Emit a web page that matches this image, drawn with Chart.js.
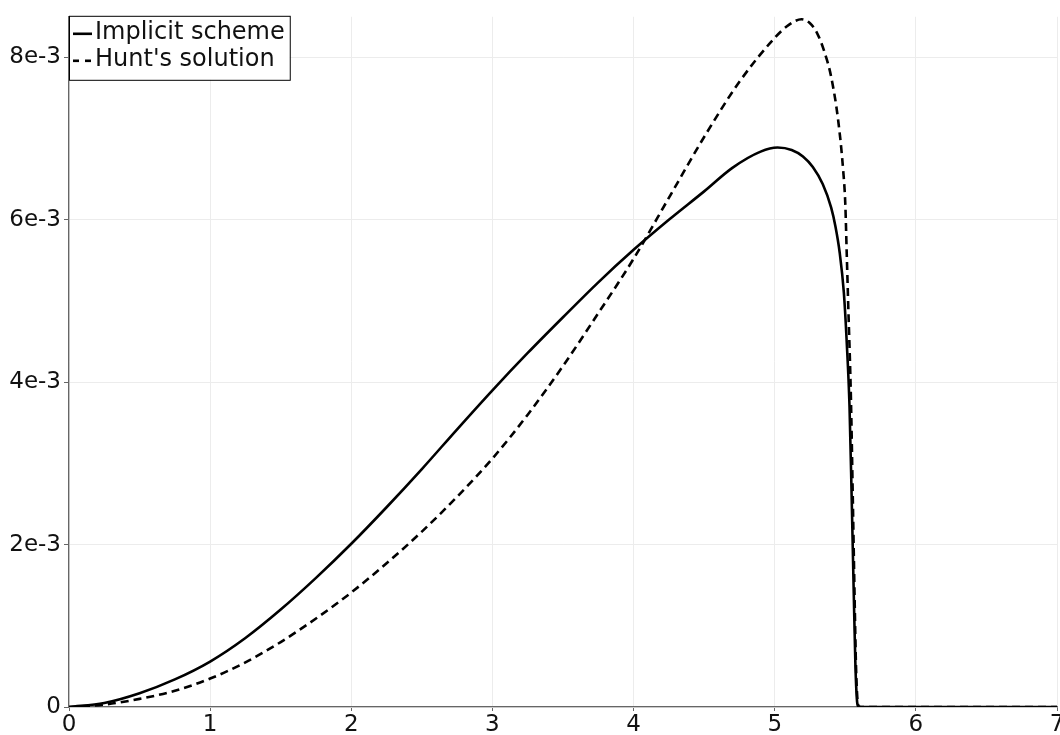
<!DOCTYPE html>
<html>
<head>
<meta charset="utf-8">
<script src="https://cdn.jsdelivr.net/npm/chart.js@4.4.1/dist/chart.umd.min.js"></script>
<style>
  html, body { margin: 0; padding: 0; background: #fff; overflow: hidden; }
  #wrap { position: relative; width: 1070px; height: 735px; }
</style>
</head>
<body>
<div id="wrap"><canvas id="c"></canvas></div>
<script>
// ---- data ----
const seriesLabels = ["Implicit scheme", "Hunt's solution"];

const xImplicit = [0, 0.25, 0.5, 0.75, 1, 1.25, 1.5, 1.75, 2, 2.25, 2.5, 2.75, 3, 3.25, 3.5, 3.75, 4, 4.25, 4.5, 4.7, 4.9, 5.02, 5.12, 5.2, 5.27, 5.34, 5.4, 5.43, 5.46, 5.49, 5.51, 5.53, 5.545, 5.56, 5.572, 5.582, 5.59, 5.6, 6, 6.5, 7];
const yImplicit = [0, 0.00005, 0.00017, 0.00034, 0.00056, 0.00085, 0.00120, 0.00159, 0.00201, 0.00246, 0.00293, 0.00342, 0.00390, 0.00436, 0.00480, 0.00523, 0.00563, 0.00600, 0.00635, 0.00664, 0.00684, 0.00689, 0.00686, 0.00678, 0.00665, 0.00644, 0.00615, 0.00592, 0.00560, 0.00510, 0.00450, 0.00370, 0.00260, 0.00140, 0.00050, 0.00010, 0.00001, 0, 0, 0, 0];

const xHunt = [0, 0.25, 0.5, 0.75, 1, 1.25, 1.5, 1.75, 2, 2.25, 2.5, 2.75, 3, 3.25, 3.5, 3.75, 4, 4.25, 4.5, 4.75, 5, 5.1, 5.19, 5.25, 5.3, 5.35, 5.4, 5.45, 5.485, 5.5, 5.51, 5.52, 5.54, 5.553, 5.566, 5.576, 5.585, 5.595, 5.61, 6, 6.5, 7];
const yHunt = [0, 0.00003, 0.00010, 0.00020, 0.00035, 0.00055, 0.00080, 0.00109, 0.00141, 0.00177, 0.00216, 0.00259, 0.00306, 0.00360, 0.00420, 0.00485, 0.00552, 0.00627, 0.00702, 0.00770, 0.00824, 0.00840, 0.00847, 0.00842, 0.00830, 0.00808, 0.00776, 0.00722, 0.00661, 0.00620, 0.00560, 0.00500, 0.00380, 0.00260, 0.00135, 0.00050, 0.00012, 0.00001, 0, 0, 0, 0];

const xTickValues = [0, 1, 2, 3, 4, 5, 6, 7];
const xTickLabels = ["0", "1", "2", "3", "4", "5", "6", "7"];
const yTickValues = [0, 0.002, 0.004, 0.006, 0.008];
const yTickLabels = ["0", "2e-3", "4e-3", "6e-3", "8e-3"];

// ---- chart ----
const FONT = "'DejaVu Sans', sans-serif";
const FONT_SIZE = 23;
const LEGEND_FONT_SIZE = 24;
const toPts = (xs, ys) => xs.map((x, i) => ({ x: x, y: ys[i] }));

const boxedLegend = {
  id: 'boxedLegend',
  afterDraw(chart) {
    const ctx = chart.ctx;
    const ca = chart.chartArea;
    ctx.save();
    ctx.font = LEGEND_FONT_SIZE + "px " + FONT;
    const padL = 4, sample = 19, gap = 3, padR = 5, rowH = 27;
    let maxW = 0;
    chart.data.datasets.forEach(ds => { maxW = Math.max(maxW, ctx.measureText(ds.label).width); });
    const x0 = ca.left, y0 = ca.top - 1;
    const w = padL + sample + gap + maxW + padR;
    const h = rowH * chart.data.datasets.length + 10;
    ctx.fillStyle = '#ffffff';
    ctx.fillRect(x0, y0, w, h);
    ctx.strokeStyle = '#000';
    ctx.lineWidth = 1;
    ctx.strokeRect(x0 + 0.5, y0 + 0.5, w, h);
    chart.data.datasets.forEach((ds, i) => {
      const cy = y0 + 17 + i * rowH;
      ctx.beginPath();
      ctx.setLineDash(ds.borderDash ? [6, 6] : []);
      ctx.lineWidth = ds.borderWidth;
      ctx.strokeStyle = ds.borderColor;
      ctx.moveTo(x0 + padL, cy + 1);
      ctx.lineTo(x0 + padL + sample, cy + 1);
      ctx.stroke();
      ctx.setLineDash([]);
      ctx.fillStyle = '#111';
      ctx.textBaseline = 'middle';
      ctx.textAlign = 'left';
      ctx.fillText(ds.label, x0 + padL + sample + gap, cy);
    });
    ctx.restore();
  }
};

new Chart(document.getElementById('c'), {
  type: 'line',
  data: {
    datasets: [
      {
        label: seriesLabels[0],
        data: toPts(xImplicit, yImplicit),
        borderColor: '#000',
        borderWidth: 2.6,
        pointRadius: 0,
        fill: false,
        cubicInterpolationMode: 'monotone'
      },
      {
        label: seriesLabels[1],
        data: toPts(xHunt, yHunt),
        borderColor: '#000',
        borderWidth: 2.6,
        borderDash: [8, 5],
        pointRadius: 0,
        fill: false,
        cubicInterpolationMode: 'monotone'
      }
    ]
  },
  options: {
    responsive: true,
    maintainAspectRatio: false,
    animation: false,
    events: [],
    layout: { padding: { top: 12, right: 13, bottom: 0, left: 0 } },
    plugins: { legend: { display: false }, tooltip: { enabled: false } },
    scales: {
      x: {
        type: 'linear',
        min: 0, max: 7,
        afterBuildTicks: s => { s.ticks = xTickValues.map(v => ({ value: v })); },
        afterFit: s => { s.height = 28; },
        ticks: {
          color: '#111',
          padding: 0,
          maxRotation: 0,
          font: { family: FONT, size: FONT_SIZE },
          callback: (v) => { const i = xTickValues.indexOf(v); return i >= 0 ? xTickLabels[i] : ''; }
        },
        grid: { color: '#ececec', lineWidth: 1, tickLength: 4, tickColor: '#666' },
        border: { color: '#666', width: 1.3 }
      },
      y: {
        type: 'linear',
        min: 0, max: 0.0085,
        afterBuildTicks: s => { s.ticks = yTickValues.map(v => ({ value: v })); },
        afterFit: s => { s.width = 69; },
        ticks: {
          color: '#111',
          padding: 3,
          font: { family: FONT, size: FONT_SIZE },
          callback: (v) => { const i = yTickValues.findIndex(t => Math.abs(t - v) < 1e-9); return i >= 0 ? yTickLabels[i] : ''; }
        },
        grid: { color: '#ececec', lineWidth: 1, tickLength: 5, tickColor: '#666' },
        border: { color: '#666', width: 1.3 }
      }
    }
  },
  plugins: [boxedLegend]
});
</script>
</body>
</html>
